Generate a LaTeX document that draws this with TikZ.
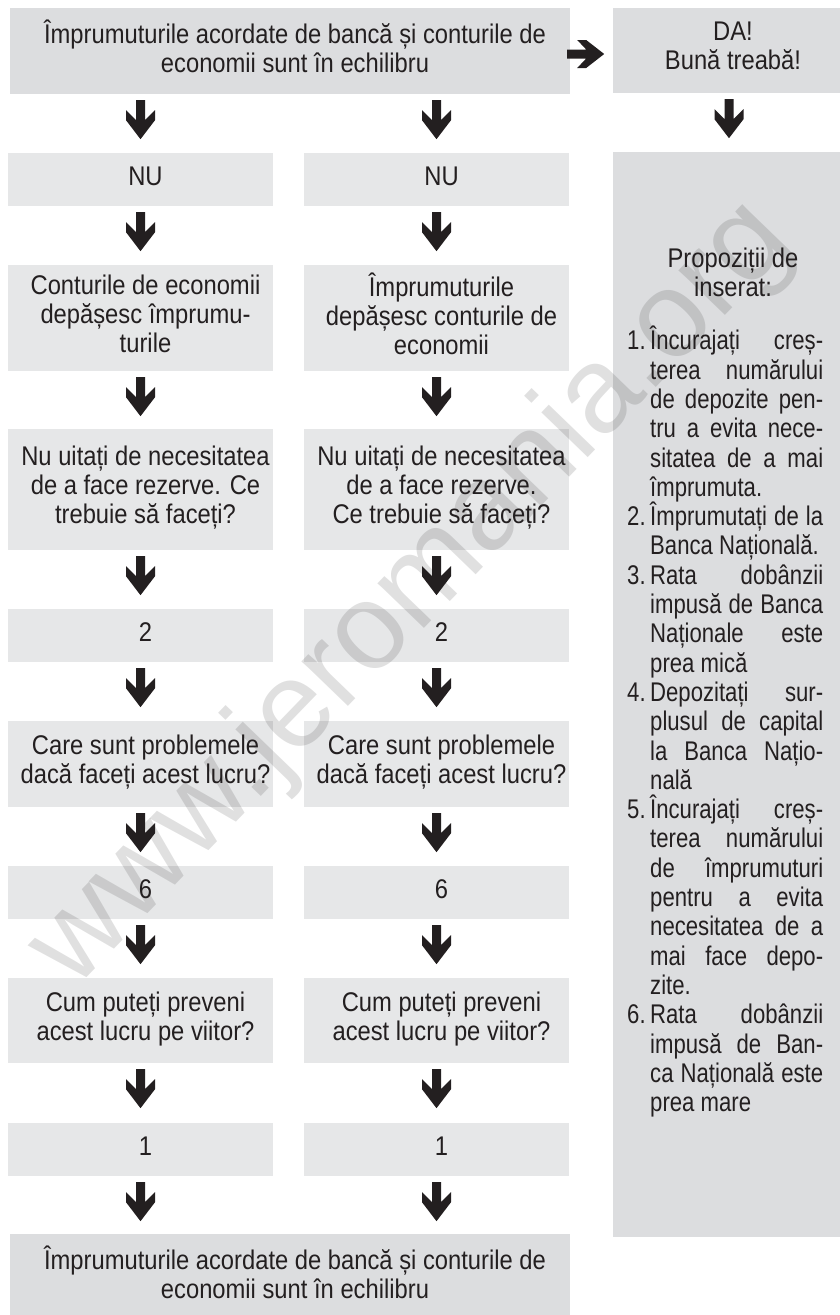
\documentclass[tikz,border=0pt]{standalone}
\usepackage{fontspec}
\setmainfont{Liberation Sans}
\newfontfamily\boxfont{Liberation Sans}[FakeStretch=0.88]
\newfontfamily\panelfont{Liberation Sans}[FakeStretch=0.82]
\usetikzlibrary{calc}
\definecolor{boxdark}{RGB}{220,221,223}
\definecolor{boxlight}{RGB}{230,231,232}
\definecolor{ink}{RGB}{35,31,32}
\newcommand\jline[1]{\makebox[173pt][s]{#1}}
\newcommand\lline[1]{\makebox[173pt][l]{#1}}
\newcommand\lnum[1]{\makebox[23pt][l]{#1}}
\newcommand\lind{\hspace*{23pt}}
\tikzset{
  boxd/.style={fill=boxdark, draw=none, inner sep=0pt},
  boxl/.style={fill=boxlight, draw=none, inner sep=0pt},
  txt/.style={text=ink, align=center, inner sep=0pt,
    font=\boxfont\fontsize{27}{29}\selectfont,
    execute at begin node=\strut, execute at end node=\strut},
  darr/.pic={\fill[ink] (-4.5,0) -- (4.5,0) -- (4.5,20) -- (14.5,10) -- (14.5,20)
     -- (0,39) -- (-14.5,20) -- (-14.5,10) -- (-4.5,20) -- cycle;},
  rarr/.pic={\fill[ink] (0,-4.5) -- (19,-4.5) -- (10,-14) -- (19,-14) -- (37,0)
     -- (19,14) -- (10,14) -- (19,4.5) -- (0,4.5) -- cycle;}
}
\begin{document}
\begin{tikzpicture}[x=1pt,y=-1pt]
\useasboundingbox (0,0) rectangle (839,1315);
% boxes
\node[boxd, minimum width=560, minimum height=86] (top) at (290,51) {};
\node[boxd, minimum width=240, minimum height=85] (da) at (733,50.5) {};
\node[boxd, minimum width=240, minimum height=1085] (panel) at (733,694.5) {};
\foreach \n/\y/\h in {nu/179.5/53, ct/318/106, nuit/489.5/121, two/635.5/53,
    care/764/86, six/892.5/53, cum/1020.5/85, one/1149.5/53} {
  \node[boxl, minimum width=265, minimum height=\h] (\n-L) at (140.5,\y) {};
  \node[boxl, minimum width=265, minimum height=\h] (\n-R) at (436.5,\y) {};
}
\node[boxd, minimum width=560, minimum height=86] (fin) at (290,1277) {};
% watermark
\node[rotate=46, font=\fontsize{122}{122}\selectfont, text=black, opacity=0.12, inner sep=0pt] (wm) at (412,595) {www.jeromania.org};
% arrows
\pic at ($(top.east)+(-3,3)$) {rarr};
\pic at ($(da.south)+(-4,6)$) {darr};
\pic at ($(nu-L.north |- top.south)+(0,6)$) {darr};
\pic at ($(nu-R.north |- top.south)+(0,6)$) {darr};
\foreach \a in {nu, ct, nuit, two, care, six, cum, one} {
  \pic at ($(\a-L.south)+(0,6)$) {darr};
  \pic at ($(\a-R.south)+(0,6)$) {darr};
}
% texts
\node[txt] (topT) at ([xshift=5pt]top.center) {Împrumuturile acordate de bancă și conturile de\\economii sunt în echilibru};
\node[txt] (daT) at (da.center) {DA!\\Bună treabă!};
\node[txt] (nuLT) at ([xshift=5pt]nu-L.center) {NU};
\node[txt] (nuRT) at ([xshift=5pt]nu-R.center) {NU};
\node[txt] (ctLT) at ([xshift=5pt]ct-L.center) {Conturile de economii\\depășesc împrumu-\\turile};
\node[txt] (ctRT) at ([xshift=5pt]ct-R.center) {Împrumuturile\\depășesc conturile de\\economii};
\node[txt] (nuitLT) at ([xshift=5pt]nuit-L.center) {Nu uitați de necesitatea\\de a face rezerve. Ce\\trebuie să faceți?};
\node[txt] (nuitRT) at ([xshift=5pt]nuit-R.center) {Nu uitați de necesitatea\\de a face rezerve.\\Ce trebuie să faceți?};
\node[txt] (twoLT) at ([xshift=5pt]two-L.center) {2};
\node[txt] (twoRT) at ([xshift=5pt]two-R.center) {2};
\node[txt] (careLT) at ([xshift=5pt]care-L.center) {Care sunt problemele\\dacă faceți acest lucru?};
\node[txt] (careRT) at ([xshift=5pt]care-R.center) {Care sunt problemele\\dacă faceți acest lucru?};
\node[txt] (sixLT) at ([xshift=5pt]six-L.center) {6};
\node[txt] (sixRT) at ([xshift=5pt]six-R.center) {6};
\node[txt] (cumLT) at ([xshift=5pt]cum-L.center) {Cum puteți preveni\\acest lucru pe viitor?};
\node[txt] (cumRT) at ([xshift=5pt]cum-R.center) {Cum puteți preveni\\acest lucru pe viitor?};
\node[txt] (oneLT) at ([xshift=5pt]one-L.center) {1};
\node[txt] (oneRT) at ([xshift=5pt]one-R.center) {1};
\node[txt] (finT) at ([xshift=5pt]fin.center) {Împrumuturile acordate de bancă și conturile de\\economii sunt în echilibru};
\node[txt] (propT) at (733,277) {Propoziții de\\inserat:};
\node[anchor=north west, inner sep=0pt, align=left, text=ink,
  font=\panelfont\fontsize{27}{29.3}\selectfont, execute at begin node=\strut] (list) at (627,326) {%
\lnum{1.}\jline{Încurajați creș-}\\
\lind\jline{terea numărului}\\
\lind\jline{de depozite pen-}\\
\lind\jline{tru a evita nece-}\\
\lind\jline{sitatea de a mai}\\
\lind\lline{împrumuta.}\\
\lnum{2.}\jline{Împrumutați de la}\\
\lind\lline{Banca Națională.}\\
\lnum{3.}\jline{Rata dobânzii}\\
\lind\jline{impusă de Banca}\\
\lind\jline{Naționale este}\\
\lind\lline{prea mică}\\
\lnum{4.}\jline{Depozitați sur-}\\
\lind\jline{plusul de capital}\\
\lind\jline{la Banca Națio-}\\
\lind\lline{nală}\\
\lnum{5.}\jline{Încurajați creș-}\\
\lind\jline{terea numărului}\\
\lind\jline{de împrumuturi}\\
\lind\jline{pentru a evita}\\
\lind\jline{necesitatea de a}\\
\lind\jline{mai face depo-}\\
\lind\lline{zite.}\\
\lnum{6.}\jline{Rata dobânzii}\\
\lind\jline{impusă de Ban-}\\
\lind\jline{ca Națională este}\\
\lind\lline{prea mare}};
\end{tikzpicture}
\end{document}
